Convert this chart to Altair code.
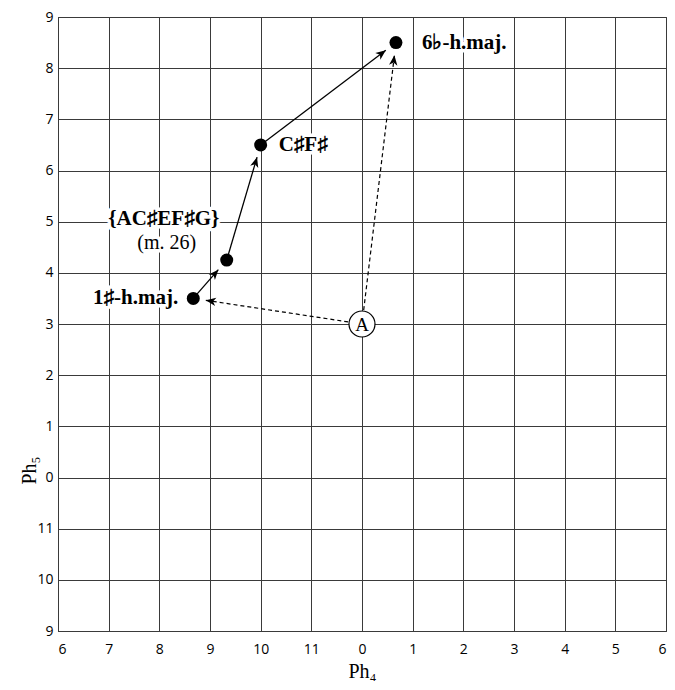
import math
import altair as alt
import pandas as pd

# ---- data (phase values) ----
x_tick_values = list(range(6, 19))      # unwrapped Ph4 positions, labelled mod 12
y_tick_values = list(range(9, 22))      # unwrapped Ph5 positions, labelled mod 12
names = ["1♯-h.maj.", "{AC♯EF♯G}", "C♯F♯", "6♭-h.maj.", "A"]
ph4 = [8.67, 9.33, 10.0, 0.67, 0.0]
ph5 = [3.5, 4.25, 6.5, 8.5, 3.0]
arrows_from = [0, 1, 2, 4, 4]
arrows_to = [1, 2, 3, 0, 3]
arrows_style = ["solid", "solid", "solid", "dashed", "dashed"]

W, H = 608, 614
X0, Y0 = 6, 9
SX, SY = W / 12, H / 12

px = [(v - X0) % 12 + X0 for v in ph4]
py = [(v - Y0) % 12 + Y0 for v in ph5]
pts = pd.DataFrame({"name": names, "x": px, "y": py})

gap = 0.25
rows = []
for a, b, s in zip(arrows_from, arrows_to, arrows_style):
    dx, dy = px[b] - px[a], py[b] - py[a]
    L = math.hypot(dx, dy)
    ux, uy = dx / L, dy / L
    tx, ty = px[b] - gap * ux, py[b] - gap * uy
    ang = math.degrees(math.atan2(dx * SX, dy * SY)) % 360
    rows.append({"x": px[a], "y": py[a], "x2": tx, "y2": ty, "style": s, "ang": ang})
arr = pd.DataFrame(rows)

xs = alt.Scale(domain=[6, 18], nice=False, zero=False)
ys = alt.Scale(domain=[9, 21], nice=False, zero=False)
xax = alt.Axis(values=x_tick_values, labelExpr="datum.value % 12", title="Ph₄",
               labelPadding=11, titleY=46, titleBaseline="alphabetic")
yax = alt.Axis(values=y_tick_values, labelExpr="datum.value % 12", title="Ph₅",
               labelPadding=5, titleX=-23, titleY=453, titleBaseline="alphabetic")
X = alt.X("x:Q", scale=xs, axis=xax)
Y = alt.Y("y:Q", scale=ys, axis=yax)

base = alt.Chart(pts)
ab = alt.Chart(arr)

def label(name, text, dx, dy, align, bold=True, halo=False, size=21):
    kw = dict(font="Liberation Serif", fontSize=size, fontWeight="bold" if bold else "normal",
              dx=dx, dy=dy, align=align, baseline="middle")
    if halo:
        kw.update(stroke="white", strokeWidth=7, color="white", strokeJoin="round")
    else:
        kw.update(color="black")
    return base.transform_filter(alt.datum.name == name).mark_text(**kw).encode(
        x=X, y=Y, text=alt.value(text))

label_specs = [
    ("1♯-h.maj.", "1♯-h.maj.", -15, 0, "right", True, 21),
    ("{AC♯EF♯G}", "{AC♯EF♯G}", -63, -41, "center", True, 21),
    ("{AC♯EF♯G}", "(m. 26)", -60, -17, "center", False, 20),
    ("C♯F♯", "C♯F♯", 18, 0, "left", True, 21),
    ("6♭-h.maj.", "6♭-h.maj.", 26, 0, "left", True, 21),
]

halos = [label(n, t, dx, dy, al, b, halo=True, size=sz) for n, t, dx, dy, al, b, sz in label_specs]
texts = [label(n, t, dx, dy, al, b, size=sz) for n, t, dx, dy, al, b, sz in label_specs]

solid = ab.transform_filter(alt.datum.style == "solid").mark_rule(
    color="black", strokeWidth=1.3).encode(x=X, y=Y, x2="x2:Q", y2="y2:Q")
dashed = ab.transform_filter(alt.datum.style == "dashed").mark_rule(
    color="black", strokeWidth=1.2, strokeDash=[4, 3]).encode(x=X, y=Y, x2="x2:Q", y2="y2:Q")

heads = ab.mark_point(shape="M0,0 L0.75,1.8 L0,1.3 L-0.75,1.8 Z", filled=True,
                      color="black", opacity=1, size=125).encode(
    x=alt.X("x2:Q", scale=xs, axis=xax), y=alt.Y("y2:Q", scale=ys, axis=yax),
    angle=alt.Angle("ang:Q", scale=None))

dots = base.transform_filter(alt.datum.name != "A").mark_point(
    shape="circle", filled=True, color="black", opacity=1, size=169).encode(x=X, y=Y)

acirc = base.transform_filter(alt.datum.name == "A").mark_point(
    shape="circle", filled=True, fill="white", stroke="black", strokeWidth=1.2,
    opacity=1, size=676).encode(x=X, y=Y)
atext = base.transform_filter(alt.datum.name == "A").mark_text(
    font="Liberation Serif", fontSize=19, color="black", baseline="middle",
    align="center", dy=1).encode(x=X, y=Y, text="name:N")

chart = alt.layer(*halos, solid, dashed, heads, dots, acirc, atext, *texts).properties(
    width=W, height=H,
    padding={"left": 50, "top": 9, "right": 1, "bottom": 50},
    autosize=alt.AutoSizeParams(type="none"),
).configure_view(stroke="#333", strokeWidth=1).configure_axis(
    grid=True, gridColor="#3a3a3a", gridOpacity=1, gridWidth=1,
    domainColor="#3a3a3a", ticks=False,
    labelFont="Open Sans", labelFontSize=14, labelColor="black",
    titleFont="Liberation Serif", titleFontSize=20, titleFontWeight="normal",
    titleColor="black",
)

chart.save("out.html", embed_options={"renderer": "svg", "actions": False})
